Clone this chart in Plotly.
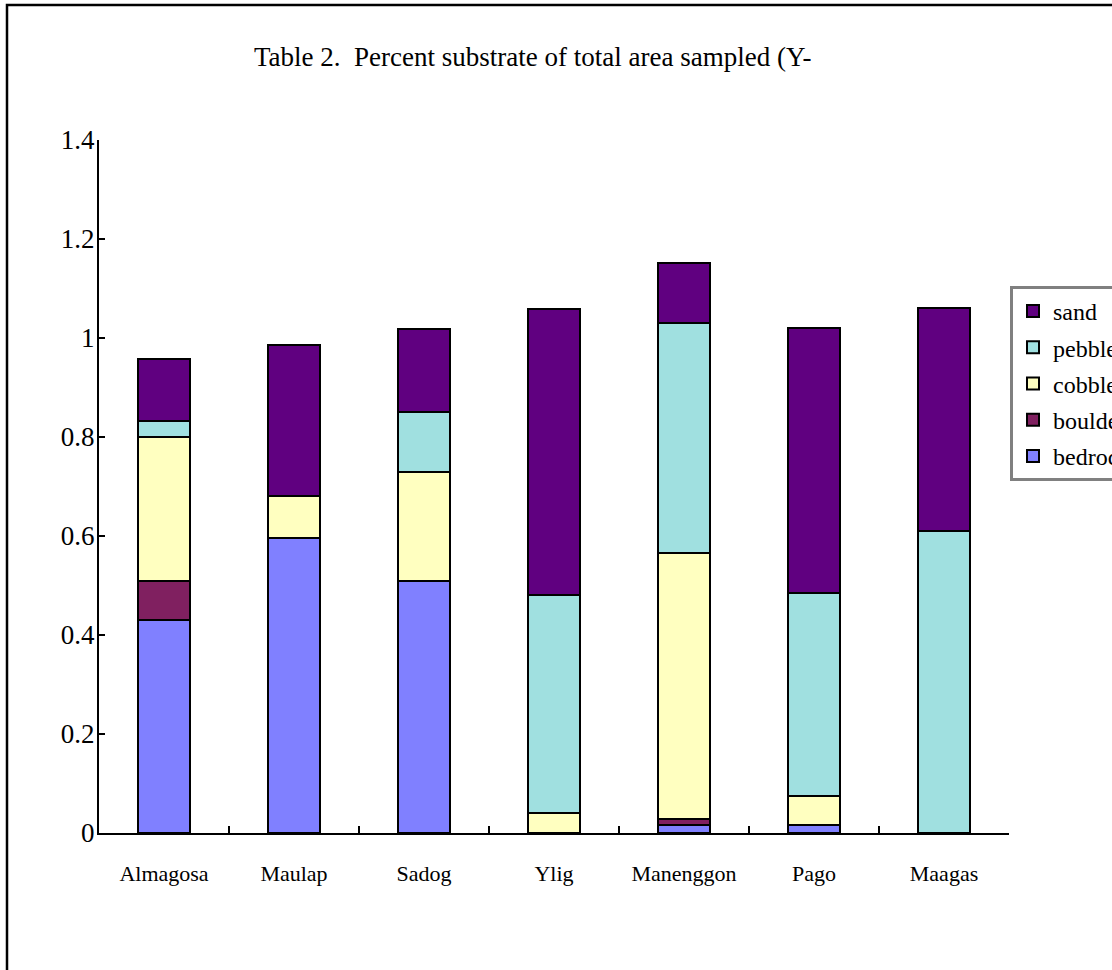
import plotly.graph_objects as go

sites = ["Almagosa", "Maulap", "Sadog", "Ylig", "Manenggon", "Pago", "Maagas"]
bedrock = [0.43, 0.595, 0.51, None, 0.016, 0.016, None]
boulder = [0.08, None, None, None, 0.012, None, None]
cobble = [0.29, 0.085, 0.22, 0.04, 0.538, 0.058, None]
pebble = [0.032, None, 0.12, 0.441, 0.464, 0.41, 0.61]
sand = [0.126, 0.306, 0.168, 0.578, 0.122, 0.536, 0.45]

series = [
    ("bedrock", bedrock, "#8080FF", 5),
    ("boulder", boulder, "#802060", 4),
    ("cobble", cobble, "#FFFFC0", 3),
    ("pebble", pebble, "#A0E0E0", 2),
    ("sand", sand, "#600080", 1),
]

W, H = 1112, 970
L, R, T, B = 99, 1009, 140, 833  # plot area in pixels
FONT = "Liberation Serif"

def px(x):
    return (x - L) / (R - L)

def py(y):
    return (B - y) / (B - T)

fig = go.Figure()
for name, vals, col, rank in series:
    fig.add_trace(go.Bar(
        x=sites, y=vals, name=name, legendgroup=name, legendrank=rank,
        marker=dict(color=col, line=dict(color="black", width=2)),
        width=0.4,
    ))

fig.update_layout(
    width=W, height=H,
    margin=dict(l=L, r=W - R, t=T, b=H - B, autoexpand=False),
    barmode="stack",
    plot_bgcolor="white", paper_bgcolor="white",
    font=dict(family=FONT, color="black"),
    showlegend=True,
    legend=dict(
        x=px(1010), y=py(286), xanchor="left", yanchor="top",
        traceorder="grouped", tracegroupgap=2,
        bordercolor="#808080", borderwidth=3, bgcolor="white",
        font=dict(family=FONT, size=24, color="black"),
        itemwidth=30,
    ),
    xaxis=dict(
        type="category", range=[-0.5, 6.5], showline=True, linecolor="black", linewidth=2,
        ticks="inside", ticklen=7, tickwidth=2, tickcolor="black", tickson="boundaries",
        showgrid=False, zeroline=False,
        tickfont=dict(family=FONT, size=22, color="black"), ticklabelstandoff=20,
    ),
    yaxis=dict(
        range=[0, 1.4], dtick=0.2, showline=True, linecolor="black", linewidth=2,
        ticks="inside", ticklen=6, tickwidth=2, tickcolor="black",
        showgrid=False, zeroline=False,
        tickfont=dict(family=FONT, size=27, color="black"), ticklabelstandoff=-3,
    ),
    xaxis2=dict(
        overlaying="x", anchor="y", range=[-0.5, 6.5], tickmode="array",
        tickvals=[i - 0.5 for i in range(len(sites) + 1)],
        ticks="outside", ticklen=7, tickwidth=2, tickcolor="black",
        showticklabels=False, showgrid=False, zeroline=False, showline=False, side="bottom",
    ),
    yaxis2=dict(
        overlaying="y", anchor="x", range=[0, 1.4], dtick=0.2,
        ticks="outside", ticklen=6, tickwidth=2, tickcolor="black",
        showticklabels=False, showgrid=False, zeroline=False, showline=False, side="left",
    ),
)

# outer chart-area border
fig.add_shape(type="rect", xref="paper", yref="paper",
              x0=px(7), x1=px(1140), y0=py(1000), y1=py(5),
              line=dict(color="black", width=2.5), fillcolor="rgba(0,0,0,0)", layer="below")

fig.add_annotation(
    text="Table 2.\u00a0 Percent substrate of total area sampled (Y-",
    xref="paper", yref="paper", x=px(532), y=py(57), xanchor="center", yanchor="middle",
    showarrow=False, font=dict(family=FONT, size=27, color="black"),
)

fig.write_html("out.html", config={"displayModeBar": False},
               post_script="document.body.style.margin='0';")
